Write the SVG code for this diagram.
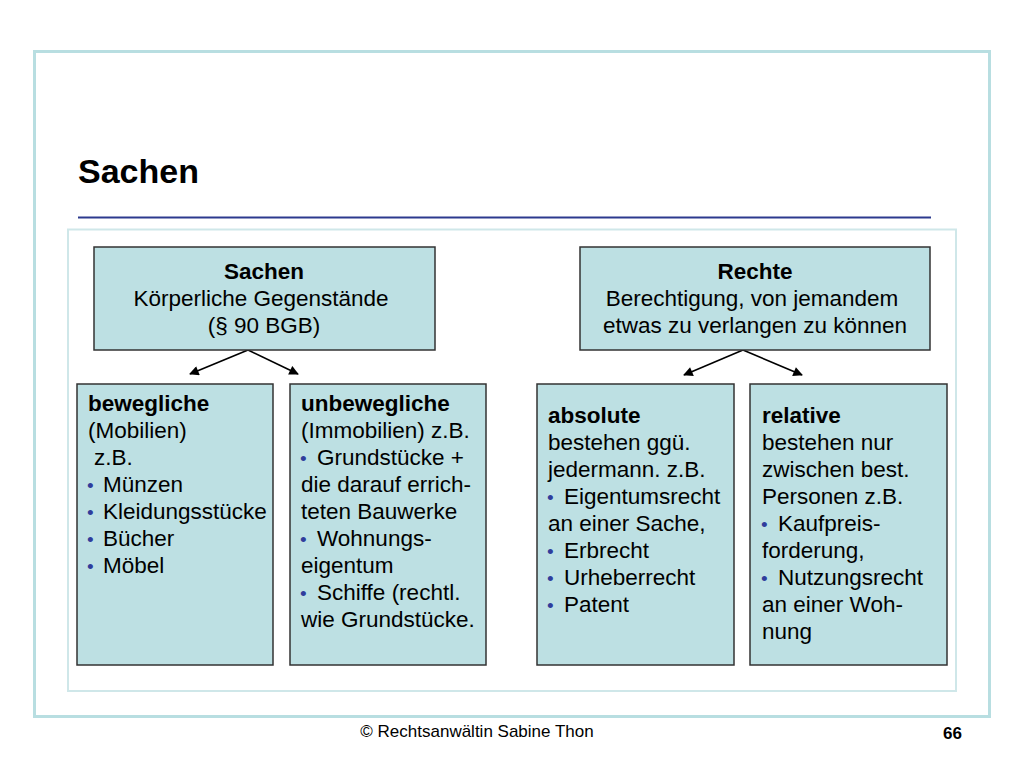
<svg xmlns="http://www.w3.org/2000/svg" width="1024" height="768" viewBox="0 0 1024 768">
<style>
  text { font-family: "Liberation Sans", Arial, sans-serif; fill: #000; }
  .box { fill: #bde0e3; stroke: #333; stroke-width: 1.5; }
  .top { font-size: 22.5px; text-anchor: middle; }
  .t { font-size: 22.5px; }
  .b { font-weight: bold; }
  .bul { fill: #2f3d9c; font-size: 19px; }
  .conn { stroke: #000; stroke-width: 1.6; fill: none; marker-end: url(#ah); }
</style>
<defs>
  <marker id="ah" viewBox="0 0 10 10" refX="9" refY="5" markerWidth="7" markerHeight="6" orient="auto" markerUnits="strokeWidth">
    <path d="M0,0 L10,5 L0,10 z" fill="#000"/>
  </marker>
</defs>
<rect width="1024" height="768" fill="#fff"/>
<g id="frame">
  <rect x="34.5" y="51.5" width="955" height="665" fill="none" stroke="#b8dee1" stroke-width="3"/>
  <rect x="68" y="229.5" width="888" height="461.5" fill="none" stroke="#cfe7e9" stroke-width="2"/>
</g>
<g id="title">
  <text x="78" y="183" font-size="34" class="b">Sachen</text>
  <line x1="78" y1="217.5" x2="931" y2="217.5" stroke="#2c3a8e" stroke-width="1.8"/>
</g>
<g id="connectors">
  <line class="conn" x1="248" y1="350" x2="190" y2="374"/>
  <line class="conn" x1="248" y1="350" x2="298" y2="374"/>
  <line class="conn" x1="743" y1="350" x2="684" y2="375"/>
  <line class="conn" x1="743" y1="350" x2="802" y2="375"/>
</g>
<g id="node-sachen">
  <rect class="box" x="94" y="247" width="341" height="103"/>
  <text class="top b" x="264" y="279">Sachen</text>
  <text class="top" x="261" y="306">Körperliche Gegenstände</text>
  <text class="top" x="264" y="333">(§ 90 BGB)</text>
</g>
<g id="node-rechte">
  <rect class="box" x="580" y="247" width="350" height="103"/>
  <text class="top b" x="755" y="279">Rechte</text>
  <text class="top" x="752" y="306">Berechtigung, von jemandem</text>
  <text class="top" x="755" y="333">etwas zu verlangen zu können</text>
</g>
<g id="node-bewegliche">
  <rect class="box" x="77" y="384" width="196" height="281"/>
  <text class="t b" x="88" y="411">bewegliche</text>
  <text class="t" x="88" y="438">(Mobilien)</text>
  <text class="t" x="94" y="465">z.B.</text>
  <text class="t" x="87" y="492"><tspan class="bul">•</tspan><tspan x="103">Münzen</tspan></text>
  <text class="t" x="87" y="519"><tspan class="bul">•</tspan><tspan x="103">Kleidungsstücke</tspan></text>
  <text class="t" x="87" y="546"><tspan class="bul">•</tspan><tspan x="103">Bücher</tspan></text>
  <text class="t" x="87" y="573"><tspan class="bul">•</tspan><tspan x="103">Möbel</tspan></text>
</g>
<g id="node-unbewegliche">
  <rect class="box" x="290" y="384" width="196" height="281"/>
  <text class="t b" x="301" y="411">unbewegliche</text>
  <text class="t" x="301" y="438">(Immobilien) z.B.</text>
  <text class="t" x="300" y="465"><tspan class="bul">•</tspan><tspan x="317">Grundstücke +</tspan></text>
  <text class="t" x="301" y="492">die darauf errich-</text>
  <text class="t" x="301" y="519">teten Bauwerke</text>
  <text class="t" x="300" y="546"><tspan class="bul">•</tspan><tspan x="317">Wohnungs-</tspan></text>
  <text class="t" x="301" y="573">eigentum</text>
  <text class="t" x="300" y="600"><tspan class="bul">•</tspan><tspan x="317">Schiffe (rechtl.</tspan></text>
  <text class="t" x="301" y="627">wie Grundstücke.</text>
</g>
<g id="node-absolute">
  <rect class="box" x="537" y="384" width="197" height="281"/>
  <text class="t b" x="548" y="423">absolute</text>
  <text class="t" x="548" y="450">bestehen ggü.</text>
  <text class="t" x="548" y="477">jedermann. z.B.</text>
  <text class="t" x="547" y="504"><tspan class="bul">•</tspan><tspan x="564">Eigentumsrecht</tspan></text>
  <text class="t" x="548" y="531">an einer Sache,</text>
  <text class="t" x="547" y="558"><tspan class="bul">•</tspan><tspan x="564">Erbrecht</tspan></text>
  <text class="t" x="547" y="585"><tspan class="bul">•</tspan><tspan x="564">Urheberrecht</tspan></text>
  <text class="t" x="547" y="612"><tspan class="bul">•</tspan><tspan x="564">Patent</tspan></text>
</g>
<g id="node-relative">
  <rect class="box" x="750" y="384" width="197" height="281"/>
  <text class="t b" x="762" y="423">relative</text>
  <text class="t" x="762" y="450">bestehen nur</text>
  <text class="t" x="762" y="477">zwischen best.</text>
  <text class="t" x="762" y="504">Personen z.B.</text>
  <text class="t" x="761" y="531"><tspan class="bul">•</tspan><tspan x="778">Kaufpreis-</tspan></text>
  <text class="t" x="762" y="558">forderung,</text>
  <text class="t" x="761" y="585"><tspan class="bul">•</tspan><tspan x="778">Nutzungsrecht</tspan></text>
  <text class="t" x="762" y="612">an einer Woh-</text>
  <text class="t" x="762" y="639">nung</text>
</g>
<g id="footer">
  <text x="477" y="737" font-size="17" text-anchor="middle">© Rechtsanwältin Sabine Thon</text>
  <text x="962" y="739" font-size="17" text-anchor="end" class="b">66</text>
</g>
</svg>
